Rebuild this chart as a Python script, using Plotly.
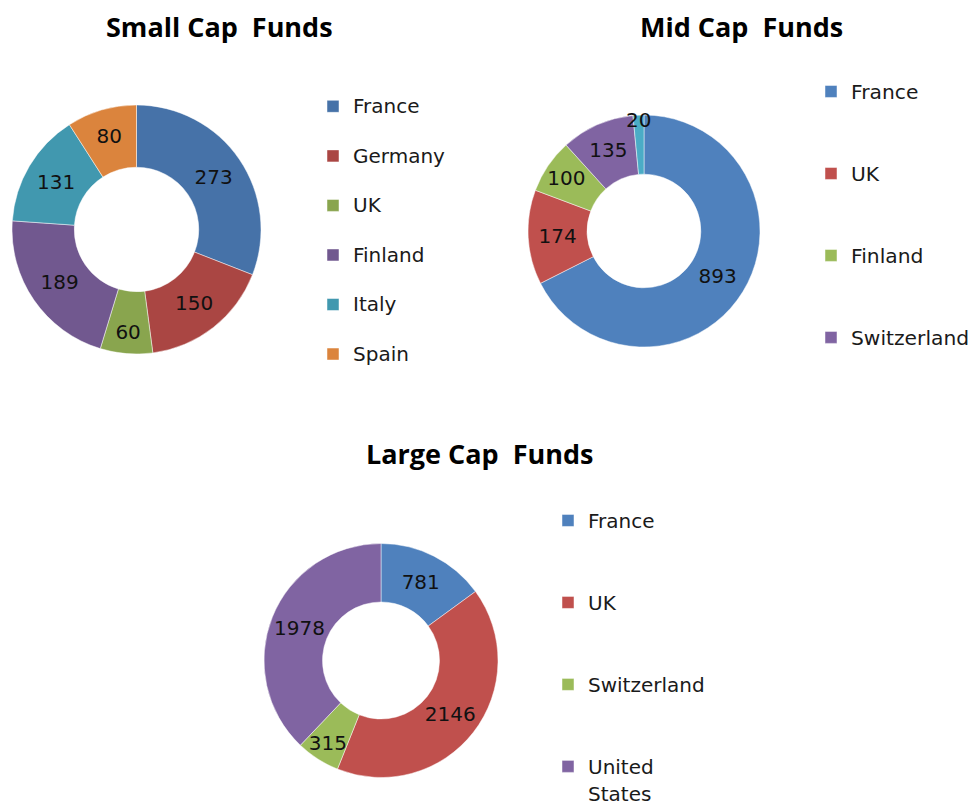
import plotly.graph_objects as go

# page viewport is 976x811; the page body has an 8px margin, so the figure is
# made a little larger than the viewport to keep legends from pushing margins.
WF, HF = 992, 850
OFF = 8  # page body margin

# ---------------- data ----------------
small_labels = ["France", "Germany", "UK", "Finland", "Italy", "Spain"]
small_values = [273, 150, 60, 189, 131, 80]
small_colors = ["#4672A8", "#AA4643", "#89A54E", "#71588F", "#4198AF", "#DB843D"]

mid_labels = ["France", "UK", "Finland", "Switzerland", "Italy"]
mid_values = [893, 174, 100, 135, 20]
mid_colors = ["#4F81BD", "#C0504D", "#9BBB59", "#8064A2", "#4BACC6"]

large_labels = ["France", "UK", "Switzerland", "United<br>States"]
large_values = [781, 2146, 315, 1978]
large_colors = ["#4F81BD", "#C0504D", "#9BBB59", "#8064A2"]

titles = ["Small Cap\u00a0 Funds", "Mid Cap\u00a0 Funds", "Large Cap\u00a0 Funds"]

TXT = "DejaVu Sans"
LBL_SIZE = 20
LEG_TXT = 20
EDGE = dict(color="rgba(255,255,255,0.6)", width=0.8)


def fx(p):
    return (p - OFF) / WF


def fy(p):
    return 1 - (p - OFF) / HF


def px_dom(cx, cy, r):
    return dict(x=[fx(cx - r), fx(cx + r)], y=[fy(cy + r), fy(cy - r)])


def pad_label(lab, lines):
    n = lab.count("<br>") + 1
    return lab + "<br> " * (lines - n)


def span(lab, size):
    return "<br>".join(f"<span style='font-size:{size}px'>{p}</span>" for p in lab.split("<br>"))


fig = go.Figure()

fig.add_trace(go.Pie(
    labels=[pad_label(span(l, LEG_TXT), 2) for l in small_labels],
    values=small_values, marker=dict(colors=small_colors, line=EDGE),
    hole=0.5, sort=False, direction="clockwise", rotation=0,
    textinfo="value", textposition="inside", insidetextorientation="horizontal",
    textfont=dict(family=TXT, size=LBL_SIZE, color="#111111"),
    domain=px_dom(136.5, 229.5, 124.5), legend="legend", name="Small Cap",
))
fig.add_trace(go.Pie(
    labels=[pad_label(l, 3) for l in mid_labels],
    values=mid_values, marker=dict(colors=mid_colors, line=EDGE),
    hole=0.49, sort=False, direction="clockwise", rotation=0,
    textinfo="value", textposition="inside", insidetextorientation="horizontal",
    textfont=dict(family=TXT, size=LBL_SIZE, color="#111111"),
    domain=px_dom(644, 231, 116), legend="legend2", name="Mid Cap",
))
fig.add_trace(go.Pie(
    labels=[pad_label(span(l, LEG_TXT), 3) for l in large_labels],
    values=large_values, marker=dict(colors=large_colors, line=EDGE),
    hole=0.5, sort=False, direction="clockwise", rotation=0,
    textinfo="value", textposition="inside", insidetextorientation="horizontal",
    textfont=dict(family=TXT, size=LBL_SIZE, color="#111111"),
    domain=px_dom(381, 660.5, 117), legend="legend3", name="Large Cap",
))

leg_common = dict(xanchor="left", yanchor="top", bgcolor="rgba(0,0,0,0)",
                  borderwidth=0, valign="top", traceorder="normal")

fig.update_layout(
    width=WF, height=HF,
    margin=dict(l=0, r=0, t=0, b=0),
    paper_bgcolor="white", plot_bgcolor="white",
    uniformtext=dict(mode="show", minsize=LBL_SIZE),
    legend=dict(x=fx(313), y=fy(88.2), font=dict(family=TXT, size=17.9, color="#1a1a1a"), **leg_common),
    legend2=dict(x=fx(811), y=fy(71.8), font=dict(family=TXT, size=20.25, color="#1a1a1a"),
                 maxheight=338, **leg_common),
    legend3=dict(x=fx(548), y=fy(500.8), font=dict(family=TXT, size=20.25, color="#1a1a1a"), **leg_common),
)

title_pos = [(219, 27), (741, 27), (479.5, 453)]
for t, (x, y) in zip(titles, title_pos):
    fig.add_annotation(text=f"<b>{t}</b>", x=fx(x), y=fy(y), xref="paper", yref="paper",
                       xanchor="center", yanchor="middle", showarrow=False,
                       font=dict(family="Open Sans", size=27, color="#000000"))

fig.write_html("out.html")
